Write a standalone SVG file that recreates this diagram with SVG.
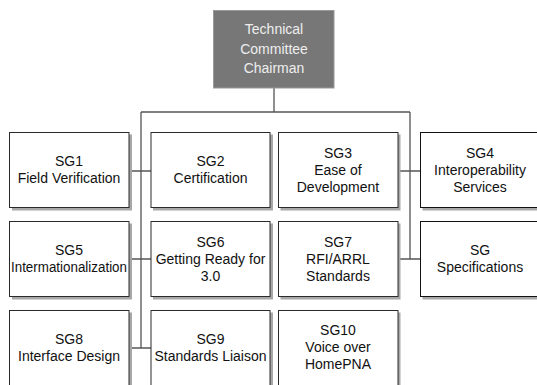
<svg xmlns="http://www.w3.org/2000/svg" width="537" height="385" viewBox="0 0 537 385">
<style>
.box{fill:#fff;stroke:#2a2a2a;stroke-width:1}
.sh{fill:#a8a8a8}
.t{font-family:"Liberation Sans",Arial,Helvetica,sans-serif;font-size:14px;fill:#111;text-anchor:middle}
.tw{font-family:"Liberation Sans",Arial,Helvetica,sans-serif;font-size:14px;fill:#eeeeee;text-anchor:middle}
.c{stroke:#555;stroke-width:1.3;fill:none}
</style>
<rect width="537" height="385" fill="#fff"/>
<g id="connectors">
<path class="c" d="M274,88V112M141,112H410M141,112V348M410,112V259"/>
<path class="c" d="M129,171H151M129,259H151M129,348H151M398,171H420M398,259H420"/>
</g>
<g id="chairman">
<rect x="213.5" y="10.5" width="120.5" height="77.5" fill="#777" stroke="#999" stroke-width="1"/>
<text class="tw" x="274" y="34">Technical</text>
<text class="tw" x="274" y="53.5">Committee</text>
<text class="tw" x="274" y="73">Chairman</text>
</g>
<g id="sg1">
<rect class="sh" x="12" y="134.5" width="120" height="76"/>
<rect class="box" x="9.5" y="132.5" width="119.5" height="75"/>
<text class="t" x="69" y="166">SG1</text>
<text class="t" x="69" y="183">Field Verification</text>
</g>
<g id="sg2">
<rect class="sh" x="153" y="134.5" width="120" height="76"/>
<rect class="box" x="151" y="132.5" width="119" height="75"/>
<text class="t" x="210.5" y="166">SG2</text>
<text class="t" x="210.5" y="183">Certification</text>
</g>
<g id="sg3">
<rect class="sh" x="280.5" y="134.5" width="120" height="76"/>
<rect class="box" x="278.5" y="132.5" width="119.5" height="75"/>
<text class="t" x="338" y="157.5">SG3</text>
<text class="t" x="338" y="174.5">Ease of</text>
<text class="t" x="338" y="191.5">Development</text>
</g>
<g id="sg4">
<rect class="sh" x="422.5" y="134.5" width="120" height="76"/>
<rect class="box" x="420.5" y="132.5" width="125" height="75" style="stroke:#111"/>
<text class="t" x="480" y="157.5">SG4</text>
<text class="t" x="480" y="174.5">Interoperability</text>
<text class="t" x="480" y="191.5">Services</text>
</g>
<g id="sg5">
<rect class="sh" x="12" y="223.5" width="120" height="76"/>
<rect class="box" x="9.5" y="221.5" width="119.5" height="75"/>
<text class="t" x="69" y="255">SG5</text>
<text class="t" x="69" y="272" textLength="116" lengthAdjust="spacingAndGlyphs">Intermationalization</text>
</g>
<g id="sg6">
<rect class="sh" x="153" y="223.5" width="120" height="76"/>
<rect class="box" x="151" y="221.5" width="119" height="75"/>
<text class="t" x="210.5" y="246.5">SG6</text>
<text class="t" x="210.5" y="263.5">Getting Ready for</text>
<text class="t" x="210.5" y="280.5">3.0</text>
</g>
<g id="sg7">
<rect class="sh" x="280.5" y="223.5" width="120" height="76"/>
<rect class="box" x="278.5" y="221.5" width="119.5" height="75"/>
<text class="t" x="338" y="246.5">SG7</text>
<text class="t" x="338" y="263.5">RFI/ARRL</text>
<text class="t" x="338" y="280.5">Standards</text>
</g>
<g id="sgspec">
<rect class="sh" x="422.5" y="223.5" width="120" height="76"/>
<rect class="box" x="420.5" y="221.5" width="125" height="75" style="stroke:#111"/>
<text class="t" x="480" y="255">SG</text>
<text class="t" x="480" y="272">Specifications</text>
</g>
<g id="sg8">
<rect class="sh" x="12" y="312.5" width="120" height="76"/>
<rect class="box" x="9.5" y="310.5" width="119.5" height="75"/>
<text class="t" x="69" y="343.5">SG8</text>
<text class="t" x="69" y="360.5">Interface Design</text>
</g>
<g id="sg9">
<rect class="sh" x="153" y="312.5" width="120" height="76"/>
<rect class="box" x="151" y="310.5" width="119" height="75"/>
<text class="t" x="210.5" y="343.5">SG9</text>
<text class="t" x="210.5" y="360.5">Standards Liaison</text>
</g>
<g id="sg10">
<rect class="sh" x="280.5" y="312.5" width="120" height="76"/>
<rect class="box" x="278.5" y="310.5" width="119.5" height="75"/>
<text class="t" x="338" y="334.5">SG10</text>
<text class="t" x="338" y="351.5">Voice over</text>
<text class="t" x="338" y="368.5">HomePNA</text>
</g>
</svg>
